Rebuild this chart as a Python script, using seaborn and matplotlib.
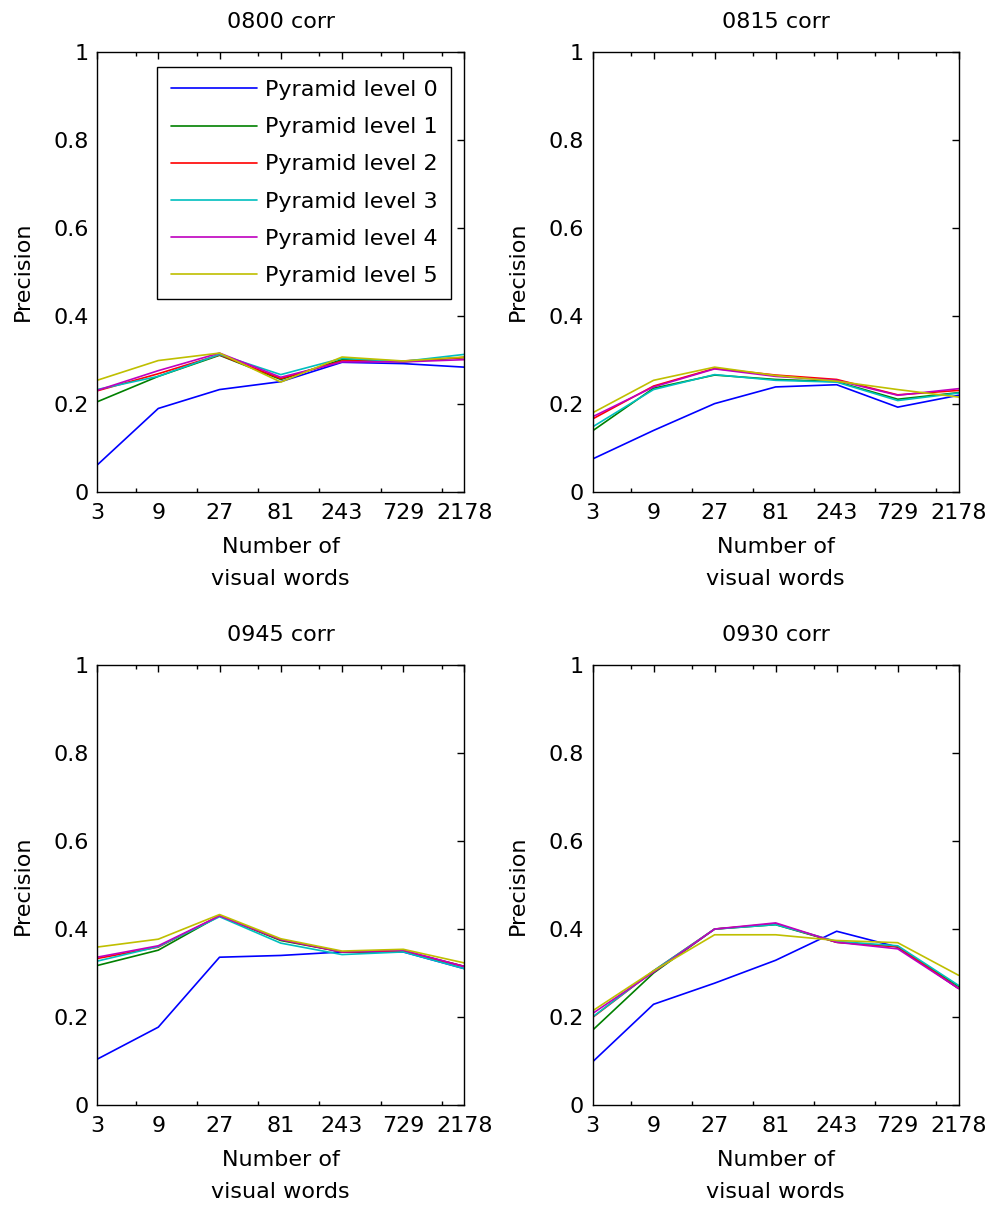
import numpy as np
import pandas as pd
import matplotlib
matplotlib.use('Agg')
import matplotlib.pyplot as plt
import seaborn as sns

# visual vocabulary sizes (x axis)
words = [3, 9, 27, 81, 243, 729, 2178]
minor_words = [6, 18, 54, 162, 486, 1458]
levels = ['Pyramid level 0', 'Pyramid level 1', 'Pyramid level 2',
          'Pyramid level 3', 'Pyramid level 4', 'Pyramid level 5']

# precision per pyramid level
p0800 = [
    [0.060, 0.189, 0.232, 0.250, 0.294, 0.291, 0.283],
    [0.204, 0.262, 0.310, 0.255, 0.300, 0.295, 0.305],
    [0.229, 0.268, 0.311, 0.257, 0.297, 0.297, 0.305],
    [0.232, 0.262, 0.312, 0.266, 0.303, 0.296, 0.312],
    [0.230, 0.275, 0.315, 0.260, 0.295, 0.295, 0.300],
    [0.253, 0.298, 0.315, 0.249, 0.306, 0.297, 0.306],
]
p0815 = [
    [0.074, 0.139, 0.200, 0.238, 0.243, 0.192, 0.219],
    [0.138, 0.235, 0.265, 0.255, 0.250, 0.210, 0.225],
    [0.165, 0.240, 0.280, 0.265, 0.255, 0.220, 0.230],
    [0.147, 0.232, 0.266, 0.253, 0.249, 0.207, 0.224],
    [0.170, 0.238, 0.279, 0.262, 0.253, 0.219, 0.234],
    [0.179, 0.253, 0.283, 0.264, 0.251, 0.232, 0.215],
]
p0945 = [
    [0.104, 0.177, 0.336, 0.340, 0.348, 0.348, 0.310],
    [0.317, 0.352, 0.430, 0.374, 0.348, 0.350, 0.315],
    [0.333, 0.359, 0.430, 0.376, 0.348, 0.350, 0.315],
    [0.327, 0.360, 0.428, 0.368, 0.342, 0.348, 0.310],
    [0.336, 0.362, 0.430, 0.376, 0.348, 0.352, 0.315],
    [0.359, 0.377, 0.433, 0.378, 0.350, 0.354, 0.323],
]
p0930 = [
    [0.098, 0.229, 0.277, 0.329, 0.395, 0.359, 0.265],
    [0.170, 0.300, 0.400, 0.410, 0.370, 0.360, 0.270],
    [0.199, 0.305, 0.400, 0.412, 0.370, 0.360, 0.265],
    [0.200, 0.305, 0.400, 0.410, 0.372, 0.362, 0.272],
    [0.208, 0.302, 0.400, 0.414, 0.370, 0.355, 0.265],
    [0.214, 0.305, 0.387, 0.387, 0.374, 0.369, 0.295],
]

titles = ['0800 corr', '0815 corr', '0945 corr', '0930 corr']
panels = [p0800, p0815, p0945, p0930]

# MATLAB default line colours
colors = [(0, 0, 1), (0, 0.5, 0), (1, 0, 0), (0, 0.75, 0.75), (0.75, 0, 0.75), (0.75, 0.75, 0)]
palette = dict(zip(levels, colors))

sns.set_style('white')
plt.rcParams['font.family'] = ['DejaVu Sans']
plt.rcParams['text.color'] = 'black'
plt.rcParams['axes.labelcolor'] = 'black'
plt.rcParams['xtick.color'] = 'black'
plt.rcParams['ytick.color'] = 'black'

FS = 16

fig = plt.figure(figsize=(9.9, 12.11), dpi=100)
# axes rectangles [left, bottom, width, height] in figure fraction
rects = [
    [0.098, 0.5941, 0.371, 0.3630],
    [0.5985, 0.5941, 0.3697, 0.3630],
    [0.098, 0.0875, 0.371, 0.3633],
    [0.5985, 0.0875, 0.3697, 0.3633],
]

for i, (title, vals) in enumerate(zip(titles, panels)):
    ax = fig.add_axes(rects[i])
    rows = []
    for lev, ys in zip(levels, vals):
        for w, y in zip(words, ys):
            rows.append({'words': w, 'precision': y, 'level': lev})
    df = pd.DataFrame(rows)
    sns.lineplot(data=df, x='words', y='precision', hue='level', palette=palette,
                 linewidth=1.2, ax=ax, legend=(i == 0), estimator=None)
    ax.set_xscale('log')
    ax.set_xlim(3, 2178)
    ax.set_ylim(0, 1)
    ax.set_xticks(words)
    ax.set_xticklabels([str(w) for w in words])
    ax.set_xticks(minor_words, minor=True)
    ax.set_xticklabels([], minor=True)
    ax.set_yticks([0, 0.2, 0.4, 0.6, 0.8, 1])
    ax.set_yticklabels(['0', '0.2', '0.4', '0.6', '0.8', '1'])
    ax.tick_params(which='major', direction='in', top=True, right=True,
                   labelsize=FS, length=5, width=1)
    ax.tick_params(axis='x', which='minor', direction='in', top=True, bottom=True,
                   length=3, width=1, color='black')
    ax.tick_params(axis='x', which='major', pad=8)
    ax.tick_params(axis='y', which='major', pad=6)
    for s in ax.spines.values():
        s.set_color('black')
        s.set_linewidth(1)
    ax.set_title(title, fontsize=FS, pad=17)
    ax.set_xlabel('Number of\nvisual words', fontsize=FS, labelpad=10, linespacing=1.75)
    ax.set_ylabel('Precision', fontsize=FS, labelpad=15)
    if i == 0:
        leg = ax.legend(loc='upper right', bbox_to_anchor=(0.964, 0.966), borderaxespad=0,
                        fontsize=FS, handlelength=3.9, handletextpad=0.35, labelspacing=0.77,
                        frameon=True, fancybox=False, borderpad=0.6)
        leg.get_frame().set_edgecolor('black')
        leg.get_frame().set_linewidth(1)
        leg.get_frame().set_alpha(1)

fig.savefig('out.png', dpi=100, facecolor='white')
